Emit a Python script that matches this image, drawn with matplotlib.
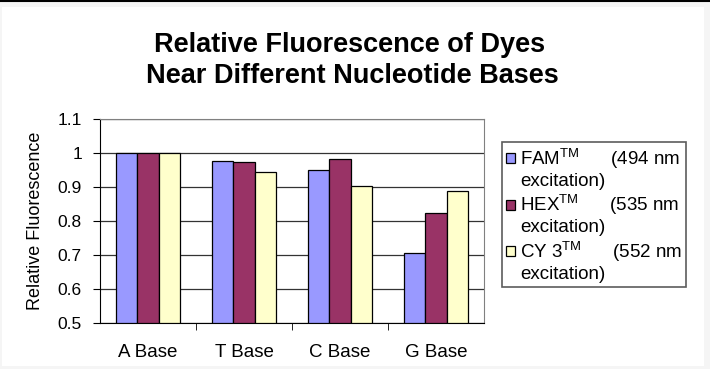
import numpy as np
import matplotlib.pyplot as plt
from matplotlib.patches import Rectangle, Patch

plt.rcParams.update({
    "font.family": ["Liberation Sans", "DejaVu Sans"],
    "font.size": 10,
    "mathtext.fontset": "custom",
    "mathtext.rm": "Liberation Sans",
})

bases = ["A Base", "T Base", "C Base", "G Base"]
fam = [1.0, 0.977, 0.951, 0.707]
hex_ = [1.0, 0.974, 0.982, 0.825]
cy3 = [1.0, 0.943, 0.902, 0.888]
yticks = [0.5, 0.6, 0.7, 0.8, 0.9, 1.0, 1.1]
ytick_labels = ["0.5", "0.6", "0.7", "0.8", "0.9", "1", "1.1"]

series_names = ["FAM$^{\\mathrm{TM}}$", "HEX$^{\\mathrm{TM}}$", "CY 3$^{\\mathrm{TM}}$"]
series_nm = ["(494 nm", "(535 nm", "(552 nm"]
series_vals = [fam, hex_, cy3]
series_colors = ["#9999ff", "#993366", "#ffffcc"]

fig = plt.figure(figsize=(7.1, 3.69), dpi=100, facecolor="#f5f5f5")
fig.patches.append(Rectangle((2 / 710, 3 / 369), 702 / 710, 359 / 369,
                             transform=fig.transFigure, facecolor="white",
                             edgecolor="none", zorder=-10))
fig.add_artist(plt.Line2D([0, 1], [1 - 0.5 / 369, 1 - 0.5 / 369],
                          transform=fig.transFigure, color="black", lw=1.5))

ax = fig.add_axes([100 / 710, 1 - 323 / 369, 384 / 710, 204 / 369])
x = np.arange(len(bases))
w = 0.222
bars = []
for i, (vals, color) in enumerate(zip(series_vals, series_colors)):
    b = ax.bar(x + (i - 1) * w, np.array(vals) - 0.5, w, bottom=0.5, color=color,
               edgecolor="black", lw=0.9, zorder=3)
    bars.append(b)

ax.set_xlim(-0.5, 3.5)
ax.set_ylim(0.5, 1.1)
ax.set_yticks(yticks)
ax.set_yticklabels(ytick_labels, fontsize=12.5)
ax.set_xticks(x)
ax.set_xticklabels(bases, fontsize=13.5)
ax.set_xticks(x[:-1] + 0.5, minor=True)
ax.tick_params(axis="x", which="major", length=0, pad=15)
ax.tick_params(axis="x", which="minor", length=5, direction="out")
ax.tick_params(axis="y", length=5, direction="out", pad=8)
ax.yaxis.grid(True, color="#333333", lw=0.9, zorder=1)
ax.set_axisbelow(True)
for s in ["top", "right"]:
    ax.spines[s].set_color("#808080")
ax.spines["left"].set_color("black")
ax.spines["bottom"].set_color("black")
ax.set_ylabel("Relative Fluorescence", fontsize=13)
ax.yaxis.set_label_coords(-0.145, 0.5)

fig.text(350 / 710, 1 - 45 / 369, "Relative Fluorescence of Dyes",
         ha="center", va="center", fontsize=19.5, fontweight="bold")
fig.text(352 / 710, 1 - 76 / 369, "Near Different Nucleotide Bases",
         ha="center", va="center", fontsize=19.5, fontweight="bold")

# two legend rows per series: name line with swatch, then "excitation)"
handles, labels = [], []
blank = Patch(facecolor="none", edgecolor="none")
for b, name, nm in zip(bars, series_names, series_nm):
    handles += [b, blank]
    labels += [f"{name}      {nm}", "excitation)"]
leg = ax.legend(handles, labels, loc="upper left",
                bbox_to_anchor=(502 / 710, 1 - 142 / 369),
                bbox_transform=fig.transFigure, fontsize=13.5, frameon=True,
                fancybox=False, edgecolor="#333333", handlelength=0.45,
                handleheight=0.45, handletextpad=0.3, labelspacing=0.12,
                borderpad=0.22, borderaxespad=0)
leg.get_frame().set_linewidth(1.2)

fig.savefig("out.png", dpi=100, facecolor=fig.get_facecolor())
